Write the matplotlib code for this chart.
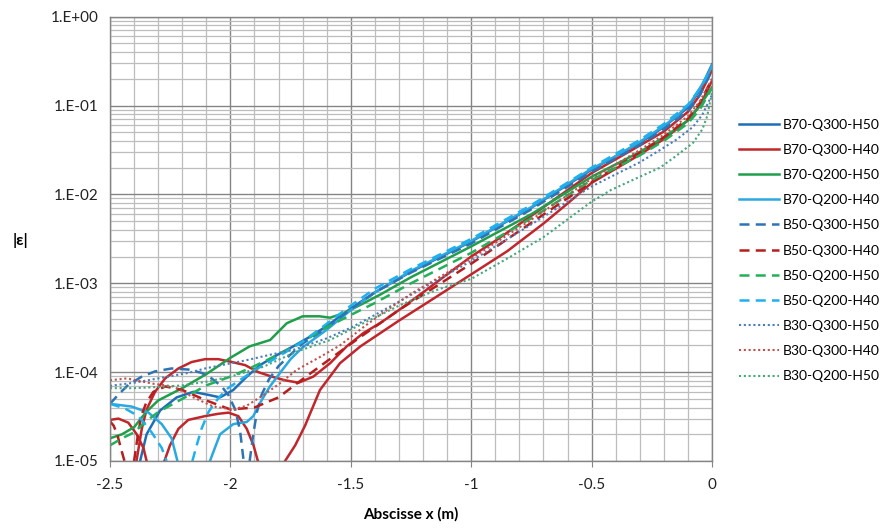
import numpy as np
import matplotlib

matplotlib.use("Agg")
import matplotlib.pyplot as plt
from matplotlib.ticker import FuncFormatter, LogLocator, MultipleLocator, NullFormatter

plt.rcParams["font.family"] = ["Lato", "DejaVu Sans"]

nan = np.nan

# |strain| along the abscissa; NaN splits a series where it crosses zero
x_b70_q300_h50 = [-2.375, -2.348, -2.292, -2.223, -2.154, -2.085, -2.043, -1.988, -1.932, -1.877,
                  -1.808, -1.739, -1.67, -1.6, -1.5, -1.4, -1.25, -1.0, -0.75, -0.5,
                  -0.3, -0.2, -0.1, -0.05, 0.0]
y_b70_q300_h50 = [1.0e-5, 2.0e-5, 3.7e-5, 5.2e-5, 6.0e-5, 5.5e-5, 5.2e-5, 6.3e-5, 8.9e-5, 1.2e-4,
                  1.55e-4, 1.95e-4, 2.5e-4, 3.3e-4, 5.2e-4, 7.9e-4, 1.35e-3, 2.95e-3, 7.1e-3, 1.9e-2,
                  3.8e-2, 5.75e-2, 9.5e-2, 0.15, 0.29]

x_b70_q300_h40 = [-2.5, -2.465, -2.424, -2.389, -2.361, -2.348, nan,
                  -2.39, -2.368, -2.348, -2.313, -2.271, -2.216, -2.161, -2.105, -2.05, -1.994,
                  -1.939, -1.884, -1.828, -1.773, -1.717, -1.656, -1.586, -1.517, -1.448, -1.379,
                  -1.3, -1.2, -1.1, -1.0, -0.9, -0.75, -0.5, -0.3, -0.2, -0.1, -0.05, 0.0, nan,
                  -2.274, -2.251, -2.216, -2.175, -2.105, -2.05, -2.008, -1.967, -1.932, -1.904, -1.886, nan,
                  -1.773, -1.731, -1.69, -1.628, -1.545, -1.46, -1.3, -1.15, -1.0, -0.85,
                  -0.7, -0.6, -0.5, -0.3, -0.2, -0.1, -0.05, 0.0]
y_b70_q300_h40 = [2.9e-5, 3.0e-5, 2.7e-5, 2.0e-5, 1.4e-5, 1.0e-5, nan,
                  1.0e-5, 2.3e-5, 3.8e-5, 6.0e-5, 8.5e-5, 1.1e-4, 1.3e-4, 1.4e-4, 1.4e-4, 1.3e-4,
                  1.2e-4, 1.0e-4, 8.9e-5, 8.1e-5, 7.6e-5, 8.9e-5, 1.26e-4, 1.95e-4, 2.75e-4, 3.55e-4,
                  5.0e-4, 7.9e-4, 1.26e-3, 2.0e-3, 3.0e-3, 5.75e-3, 1.74e-2, 3.55e-2, 5.1e-2, 8.5e-2, 0.132, 0.25, nan,
                  1.0e-5, 1.5e-5, 2.3e-5, 2.9e-5, 3.2e-5, 3.4e-5, 3.5e-5, 3.2e-5, 2.3e-5, 1.5e-5, 1.0e-5, nan,
                  1.0e-5, 1.5e-5, 2.5e-5, 6.3e-5, 1.26e-4, 1.95e-4, 3.8e-4, 6.9e-4, 1.26e-3, 2.3e-3,
                  4.7e-3, 7.9e-3, 1.35e-2, 2.8e-2, 4.2e-2, 6.8e-2, 0.10, 0.19]

x_b70_q200_h50 = [-2.5, -2.45, -2.4, -2.35, -2.3, -2.2, -2.1, -2.0, -1.92, -1.835,
                  -1.766, -1.7, -1.63, -1.586, -1.53, -1.45, -1.38, -1.25, -1.0, -0.75,
                  -0.5, -0.3, -0.2, -0.1, -0.05, 0.0]
y_b70_q200_h50 = [1.8e-5, 2.0e-5, 2.4e-5, 3.55e-5, 4.8e-5, 6.6e-5, 9.5e-5, 1.45e-4, 1.95e-4, 2.3e-4,
                  3.55e-4, 4.25e-4, 4.25e-4, 4.1e-4, 4.6e-4, 5.9e-4, 7.4e-4, 1.17e-3, 2.6e-3, 6.0e-3,
                  1.58e-2, 3.0e-2, 4.4e-2, 6.8e-2, 0.10, 0.16]

x_b70_q200_h40 = [-2.5, -2.41, -2.34, -2.285, -2.244, -2.22, nan,
                  -2.085, -2.043, -1.988, -1.932, -1.905, -1.877, -1.836, -1.794, -1.75, -1.7,
                  -1.6, -1.5, -1.4, -1.25, -1.0, -0.75, -0.5, -0.42, -0.3, -0.2,
                  -0.14, -0.09, -0.05, -0.02, 0.0]
y_b70_q200_h40 = [4.4e-5, 4.1e-5, 3.5e-5, 2.6e-5, 1.8e-5, 1.0e-5, nan,
                  1.0e-5, 2.0e-5, 2.6e-5, 2.75e-5, 3.2e-5, 4.5e-5, 6.9e-5, 9.8e-5, 1.4e-4, 1.9e-4,
                  3.0e-4, 5.0e-4, 7.9e-4, 1.38e-3, 3.0e-3, 7.2e-3, 1.95e-2, 2.5e-2, 3.9e-2, 5.9e-2,
                  7.9e-2, 0.107, 0.158, 0.214, 0.282]

x_b50_q300_h50 = [-2.5, -2.465, -2.424, -2.368, -2.313, -2.244, -2.175, -2.119, -2.078, -2.036,
                  -2.008, -1.98, -1.96, -1.945, nan,
                  -1.92, -1.905, -1.89, -1.87, -1.84, -1.8, -1.75, -1.7, -1.6, -1.5,
                  -1.4, -1.25, -1.0, -0.75, -0.5, -0.3, -0.2, -0.1, -0.05, 0.0]
y_b50_q300_h50 = [4.4e-5, 5.6e-5, 7.2e-5, 8.9e-5, 1.02e-4, 1.1e-4, 1.07e-4, 9.8e-5, 8.5e-5, 6.9e-5,
                  5.5e-5, 3.8e-5, 2.2e-5, 1.0e-5, nan,
                  1.0e-5, 2.0e-5, 3.55e-5, 5.6e-5, 8.3e-5, 1.17e-4, 1.58e-4, 2.1e-4, 3.16e-4, 5.1e-4,
                  7.9e-4, 1.32e-3, 2.8e-3, 6.8e-3, 1.8e-2, 3.6e-2, 5.4e-2, 8.7e-2, 0.132, 0.25]

x_b50_q300_h40 = [-2.5, -2.485, -2.47, -2.455, -2.44, nan,
                  -2.4, -2.385, -2.37, -2.35, -2.32, -2.27, -2.2, -2.1, -2.0, -1.9,
                  -1.8, -1.72, -1.65, -1.55, -1.45, -1.3, -1.15, -1.0, -0.75, -0.5,
                  -0.3, -0.2, -0.1, -0.05, 0.0]
y_b50_q300_h40 = [2.8e-5, 2.5e-5, 2.0e-5, 1.4e-5, 1.0e-5, nan,
                  1.0e-5, 1.9e-5, 3.2e-5, 4.5e-5, 6.0e-5, 6.9e-5, 6.3e-5, 4.8e-5, 3.8e-5, 4.0e-5,
                  5.2e-5, 7.6e-5, 1.05e-4, 1.66e-4, 2.6e-4, 5.0e-4, 9.1e-4, 1.66e-3, 4.8e-3, 1.38e-2,
                  2.95e-2, 4.4e-2, 7.1e-2, 0.107, 0.20]

x_b50_q200_h50 = [-2.5, -2.45, -2.4, -2.35, -2.3, -2.2, -2.1, -2.0, -1.9, -1.8,
                  -1.7, -1.6, -1.5, -1.4, -1.25, -1.0, -0.75, -0.5, -0.3, -0.2,
                  -0.1, -0.05, 0.0]
y_b50_q200_h50 = [1.5e-5, 1.8e-5, 2.1e-5, 2.8e-5, 3.55e-5, 5.0e-5, 7.1e-5, 8.9e-5, 1.17e-4, 1.58e-4,
                  2.2e-4, 3.2e-4, 4.4e-4, 6.0e-4, 1.0e-3, 2.2e-3, 5.4e-3, 1.45e-2, 2.75e-2, 4.0e-2,
                  6.3e-2, 9.1e-2, 0.158]

x_b50_q200_h40 = [-2.5, -2.438, -2.382, -2.327, -2.285, -2.265, nan,
                  -2.158, -2.14, -2.12, -2.09, -2.05, -2.01, -1.95, -1.9, -1.8, -1.7,
                  -1.6, -1.5, -1.4, -1.25, -1.0, -0.75, -0.5, -0.3, -0.2, -0.1,
                  -0.05, 0.0]
y_b50_q200_h40 = [4.4e-5, 3.9e-5, 3.2e-5, 2.1e-5, 1.4e-5, 1.0e-5, nan,
                  1.0e-5, 1.5e-5, 2.3e-5, 3.6e-5, 5.1e-5, 6.6e-5, 8.5e-5, 1.05e-4, 1.5e-4, 2.2e-4,
                  3.5e-4, 5.6e-4, 8.7e-4, 1.45e-3, 3.16e-3, 7.6e-3, 2.0e-2, 4.1e-2, 6.2e-2, 0.102,
                  0.155, 0.275]

x_b30_q300_h50 = [-2.5, -2.4, -2.3, -2.175, -2.105, -2.036, -1.94, -1.83, -1.739, -1.6,
                  -1.5, -1.4, -1.25, -1.0, -0.75, -0.5, -0.42, -0.3, -0.216, -0.15,
                  -0.079, -0.04, 0.0]
y_b30_q300_h50 = [7.0e-5, 7.6e-5, 8.5e-5, 9.8e-5, 1.1e-4, 1.2e-4, 1.35e-4, 1.58e-4, 1.78e-4, 2.4e-4,
                  3.16e-4, 4.4e-4, 7.4e-4, 1.78e-3, 4.6e-3, 1.23e-2, 1.58e-2, 2.3e-2, 3.16e-2, 4.1e-2,
                  5.75e-2, 7.9e-2, 0.132]

x_b30_q300_h40 = [-2.5, -2.43, -2.32, -2.237, -2.154, -2.071, -1.988, -1.932, -1.863, -1.794,
                  -1.725, -1.628, -1.545, -1.448, -1.379, -1.25, -1.0, -0.75, -0.5, -0.3,
                  -0.2, -0.1, -0.05, 0.0]
y_b30_q300_h40 = [8.1e-5, 8.5e-5, 7.4e-5, 6.9e-5, 5.2e-5, 4.1e-5, 3.8e-5, 4.2e-5, 5.5e-5, 7.5e-5,
                  1.06e-4, 1.48e-4, 2.0e-4, 3.2e-4, 4.4e-4, 7.6e-4, 1.9e-3, 5.2e-3, 1.5e-2, 3.16e-2,
                  4.7e-2, 7.6e-2, 0.112, 0.20]

x_b30_q200_h50 = [-2.5, -2.4, -2.3, -2.2, -2.1, -2.0, -1.863, -1.725, -1.586, -1.448,
                  -1.3, -1.15, -1.0, -0.85, -0.7, -0.5, -0.42, -0.3, -0.216, -0.15,
                  -0.079, -0.04, -0.02, 0.0]
y_b30_q200_h50 = [6.6e-5, 6.6e-5, 6.8e-5, 7.1e-5, 7.8e-5, 8.9e-5, 1.15e-4, 1.7e-4, 2.3e-4, 3.55e-4,
                  5.6e-4, 8.3e-4, 1.12e-3, 1.9e-3, 3.3e-3, 8.3e-3, 1.12e-2, 1.58e-2, 2.0e-2, 2.7e-2,
                  3.8e-2, 5.4e-2, 7.6e-2, 0.14]

DASHED = (0, (4, 2.5))
DOTTED = (0, (1, 1.3))

series = [
    ("B70-Q300-H50", x_b70_q300_h50, y_b70_q300_h50, "#1f6eb7", "-"),
    ("B70-Q300-H40", x_b70_q300_h40, y_b70_q300_h40, "#c0262b", "-"),
    ("B70-Q200-H50", x_b70_q200_h50, y_b70_q200_h50, "#1f9e4b", "-"),
    ("B70-Q200-H40", x_b70_q200_h40, y_b70_q200_h40, "#2aa9e0", "-"),
    ("B50-Q300-H50", x_b50_q300_h50, y_b50_q300_h50, "#2e74b5", DASHED),
    ("B50-Q300-H40", x_b50_q300_h40, y_b50_q300_h40, "#b81d1d", DASHED),
    ("B50-Q200-H50", x_b50_q200_h50, y_b50_q200_h50, "#22b05a", DASHED),
    ("B50-Q200-H40", x_b50_q200_h40, y_b50_q200_h40, "#1fb0f0", DASHED),
    ("B30-Q300-H50", x_b30_q300_h50, y_b30_q300_h50, "#4a7eba", DOTTED),
    ("B30-Q300-H40", x_b30_q300_h40, y_b30_q300_h40, "#c0504d", DOTTED),
    ("B30-Q200-H50", x_b30_q200_h50, y_b30_q200_h50, "#46a67c", DOTTED),
]

fig = plt.figure(figsize=(8.84, 5.31), dpi=100)
ax = fig.add_axes([110 / 884, 1 - 461 / 531, 602 / 884, (461 - 16.7) / 531])

for label, xs, ys, color, style in series:
    lw = 1.5 if style is DOTTED else 1.8
    ax.plot(xs, ys, color=color, linestyle=style, linewidth=lw, label=label)

ax.set_yscale("log")
ax.set_xlim(-2.5, 0)
ax.set_ylim(1e-5, 1)

ax.xaxis.set_major_locator(MultipleLocator(0.5))
ax.xaxis.set_minor_locator(MultipleLocator(0.1))
ax.yaxis.set_major_locator(LogLocator(base=10, numticks=10))
ax.yaxis.set_minor_locator(LogLocator(base=10, subs=np.arange(2, 10), numticks=20))
ax.yaxis.set_minor_formatter(NullFormatter())

ax.xaxis.set_major_formatter(FuncFormatter(lambda v, _: f"{v:g}"))
ax.yaxis.set_major_formatter(FuncFormatter(lambda v, _: f"1.E{int(round(np.log10(v))):+03d}"))

ax.grid(which="major", color="#858585", linewidth=1.0)
ax.grid(which="minor", color="#bdbdbd", linewidth=0.9)
ax.set_axisbelow(True)

for spine in ax.spines.values():
    spine.set_color("#858585")
    spine.set_linewidth(1.0)

ax.tick_params(which="both", length=0, labelsize=11, colors="#222222", pad=8)
ax.tick_params(axis="x", which="major", length=4, color="#858585", pad=8)

ax.set_xlabel("Abscisse x (m)", fontsize=11, fontweight="bold", labelpad=11)
fig.text(20 / 884, 1 - 240 / 531, "|ε|", fontsize=11.5, fontweight="bold",
         ha="center", va="center")

fig.legend(loc="upper left", bbox_to_anchor=(733 / 884, 1 - 113 / 531),
           frameon=False, fontsize=10, handlelength=2.9, handletextpad=0.25,
           labelspacing=0.95, borderaxespad=0)

fig.savefig("out.png", dpi=100)
